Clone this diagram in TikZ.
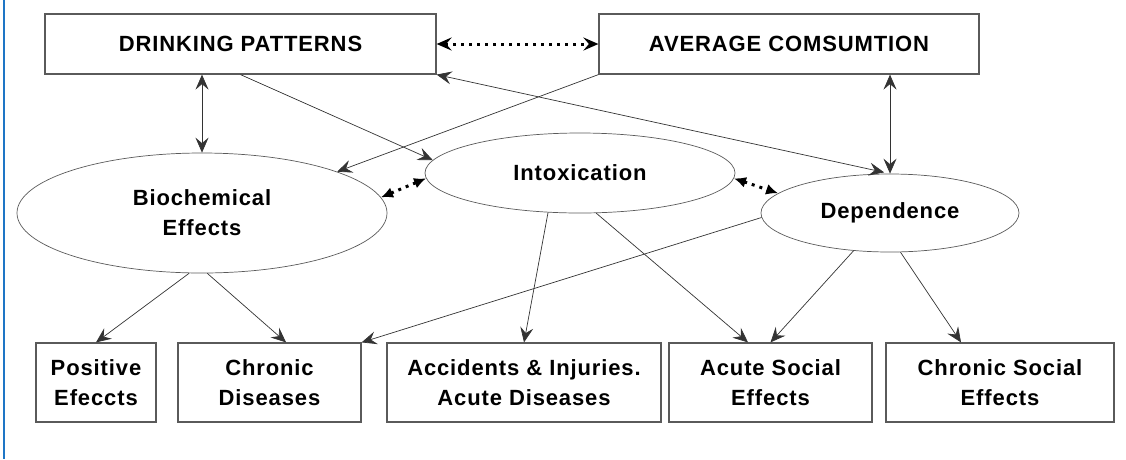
\documentclass[tikz,border=0pt]{standalone}
\usepackage{fontspec}
\setmainfont{Liberation Sans}
\newfontfamily\boxfont[LetterSpace=4]{Liberation Sans}
\usetikzlibrary{shapes.geometric, arrows.meta, calc}
\definecolor{edgegray}{RGB}{90,90,90}
\definecolor{railblue}{RGB}{30,118,198}
\begin{document}
\begin{tikzpicture}[x=1pt, y=-1pt, >={Stealth[length=15pt, width=13pt, inset=5.5pt]},
  every node/.style={font=\boxfont\bfseries\fontsize{22}{30}\selectfont, align=center, inner sep=0pt},
  box/.style={draw=edgegray, line width=1.2pt, rectangle, minimum height=79},
  oval/.style={draw=edgegray, line width=0.7pt, ellipse},
  link/.style={draw=black!80, line width=0.7pt},
  dots/.style={draw=black, line width=3pt, dash pattern=on 3pt off 5pt}]
\def\rowy{382.5}
\useasboundingbox (0,0) rectangle (1126,459);
\draw [railblue, line width=2pt] (3.5,0) -- (3.5,459);
% top boxes
\node (dp) [box, minimum width=391, minimum height=60] at (240.5,44) {DRINKING PATTERNS};
\node (avg) [box, minimum width=380, minimum height=60] at (789,44) {AVERAGE COMSUMTION};
% effects
\node (bio) [oval, minimum width=370, minimum height=120] at (202,213) {Biochemical\\Effects};
\node (intox) [oval, minimum width=310, minimum height=80] at (580,173) {Intoxication};
\node (dep) [oval, minimum width=258, minimum height=78] at (890,213) {Dependence};
% outcomes
\node (pos) [box, minimum width=120] at (96,\rowy) {Positive\\Efeccts};
\node (chd) [box, minimum width=183] at (269.5,\rowy) {Chronic\\Diseases};
\node (acc) [box, minimum width=274] at (524,\rowy) {Accidents \& Injuries.\\Acute Diseases};
\node (acs) [box, minimum width=203] at (770.5,\rowy) {Acute Social\\Effects};
\node (chs) [box, minimum width=228] at (1000,\rowy) {Chronic Social\\Effects};
% links
\draw [dots, <->] (dp.east) -- (avg.west);
\draw [link, <->] (bio.north |- dp.south) -- (bio.north);
\draw [link, <->] (dep.north |- avg.south) -- (dep.north);
\draw [link, ->] (dp.south) -- (intox.175);
\draw [link, ->] (avg.south west) -- (bio.17);
\draw [link, <->, shorten >=6pt] (dp.south east) -- (dep.north);
\draw [dots, {Latex[length=12pt, width=11pt]}-{Latex[length=12pt, width=11pt]}] (bio.5) -- (intox.182);
\draw [dots, {Latex[length=12pt, width=11pt]}-{Latex[length=12pt, width=11pt]}] (intox.358) -- (dep.170);
\draw [link, ->] (bio.258) -- (pos.north);
\draw [link, ->] (bio.275) -- ($(chd.north west)!.59!(chd.north east)$);
\draw [link, ->] (dep.182) -- (chd.north east);
\draw [link, ->] (intox.231) -- (acc.north);
\draw [link, ->] (intox.292) -- ($(acs.north west)!.39!(acs.north east)$);
\draw [link, ->] (dep.226) -- (acs.north);
\draw [link, ->] (dep.285) -- ($(chs.north west)!.33!(chs.north east)$);
\end{tikzpicture}
\end{document}
